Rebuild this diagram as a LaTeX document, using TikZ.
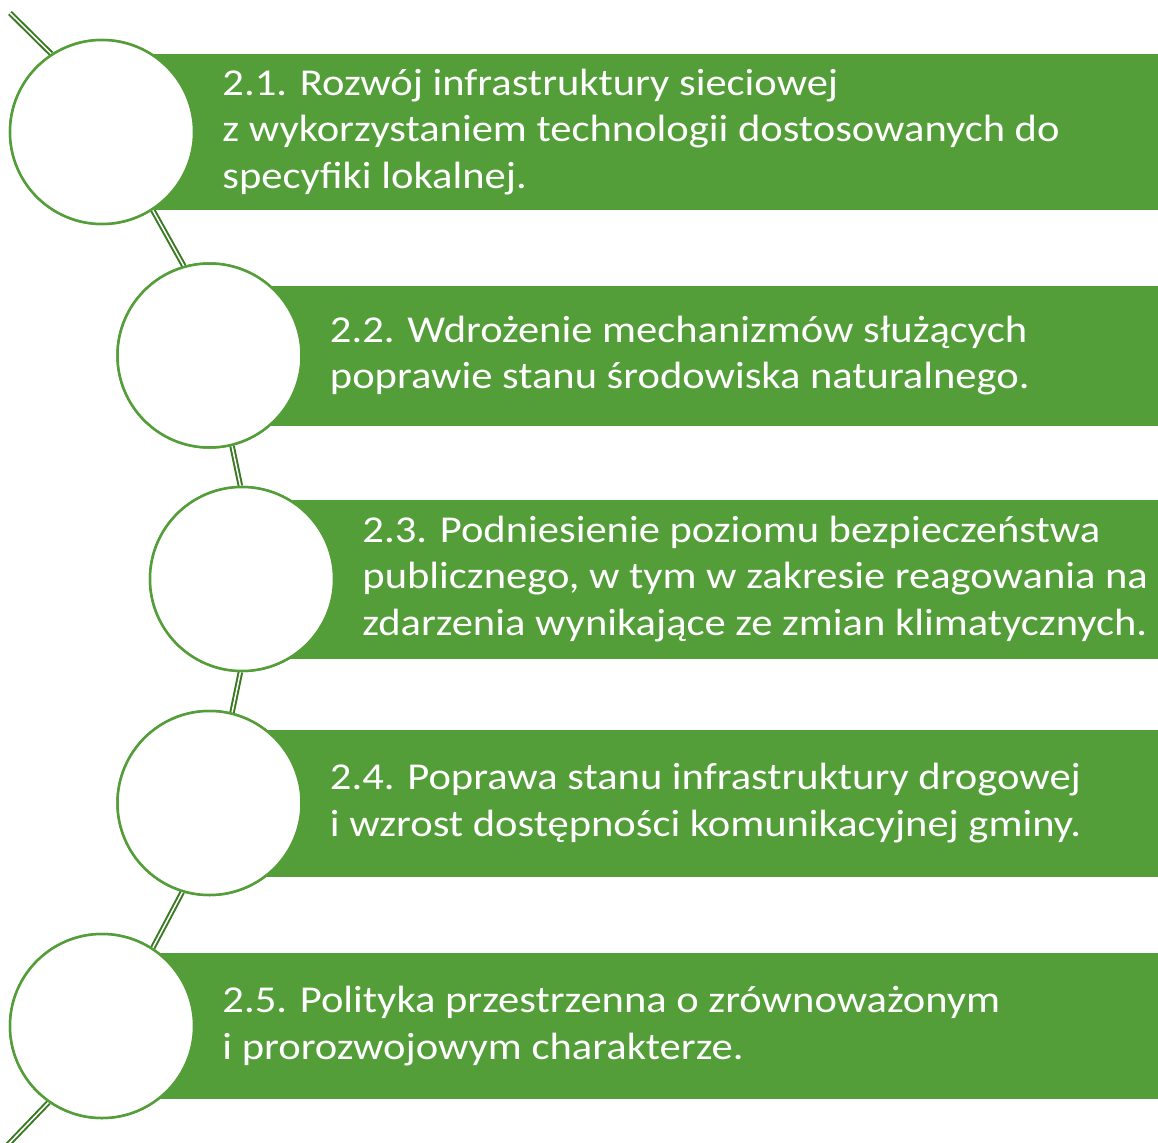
\documentclass[tikz,border=0pt]{standalone}
\usepackage{fontspec}
\setmainfont[FakeStretch=1.12]{Carlito}
\usepackage{xcolor}
\usepackage{tikz}
\usetikzlibrary{positioning}
\definecolor{LeafGreen}{HTML}{549E39}
\definecolor{StemGreen}{HTML}{3A7A22}
\tikzset{
  ring/.style={circle,draw=LeafGreen,line width=2.5pt,fill=white,minimum size=184pt,inner sep=0pt},
  bar/.style={fill=LeafGreen,anchor=west,inner sep=0pt,minimum width=1100pt},
  item/.style={text=white,align=left,inner sep=0pt,font=\fontsize{38}{46.5}\selectfont},
  stem/.style={draw=StemGreen,line width=2pt,double=white,double distance=1.5pt}
}

\begin{document}
\begin{tikzpicture}[x=1pt,y=-1pt]
  \useasboundingbox (0,0) rectangle (1158,1142);

  % circles along the arc
  \path (102,132) node[ring] (c1) {};
  \path (209.5,355.5) node[ring] (c2) {};
  \path (242,579) node[ring] (c3) {};
  \path (209.5,803) node[ring] (c4) {};
  \path (102,1026) node[ring] (c5) {};
  \coordinate (top) at (10,13);
  \coordinate (bot) at (-2,1155);

  % the stem
  \draw[stem] (top) -- (c1.123);
  \draw[stem] (c1.303) -- (c2.106);
  \draw[stem] (c2.284) -- (c3.91);
  \draw[stem] (c3.269) -- (c4.76);
  \draw[stem] (c4.253) -- (c5.57);
  \draw[stem] (c5.235) -- (bot);

  % green bars
  \node[bar,minimum height=155pt] (b1) at (c1.center) {};
  \node[bar,minimum height=140pt] (b2) at (c2.center) {};
  \node[bar,minimum height=159pt] (b3) at (c3.center) {};
  \node[bar,minimum height=147pt] (b4) at (c4.center) {};
  \node[bar,minimum height=146pt] (b5) at (c5.center) {};

  % circles on top
  \foreach \c in {c1,c2,c3,c4,c5}
    \node[ring] at (\c.center) {};

  \node[item,right=27pt of c1] (t1) {2.1. Rozwój infrastruktury sieciowej\\z wykorzystaniem technologii dostosowanych do\\specyfiki lokalnej.};
  \node[item,right=27pt of c2] (t2) {2.2. Wdrożenie mechanizmów służących\\poprawie stanu środowiska naturalnego.};
  \node[item,right=27pt of c3] (t3) {2.3. Podniesienie poziomu bezpieczeństwa\\publicznego, w tym w zakresie reagowania na\\zdarzenia wynikające ze zmian klimatycznych.};
  \node[item,right=27pt of c4] (t4) {2.4. Poprawa stanu infrastruktury drogowej\\i wzrost dostępności komunikacyjnej gminy.};
  \node[item,right=27pt of c5] (t5) {2.5. Polityka przestrzenna o zrównoważonym\\i prorozwojowym charakterze.};
\end{tikzpicture}
\end{document}
